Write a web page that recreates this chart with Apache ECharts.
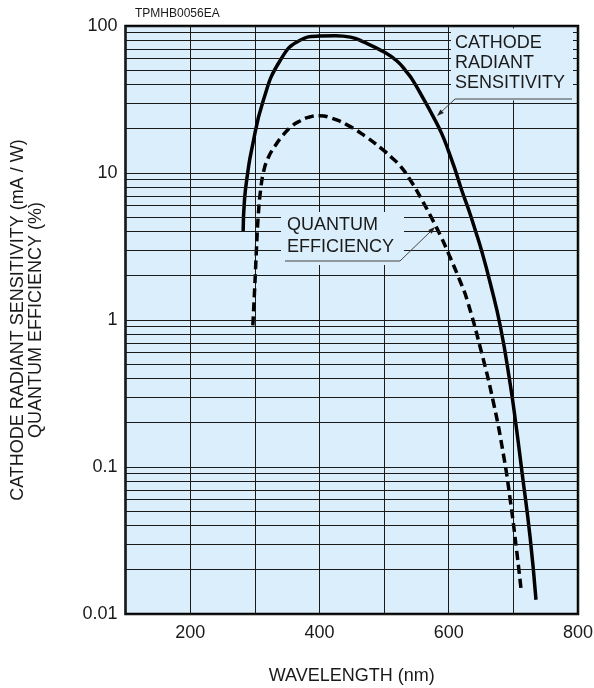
<!DOCTYPE html>
<html>
<head>
<meta charset="utf-8">
<script src="https://cdn.jsdelivr.net/npm/echarts@6/dist/echarts.min.js"></script>
<style>
  html, body { margin: 0; padding: 0; background: #fff; }
  #chart { width: 594px; height: 688px; }
</style>
</head>
<body>
<div id="chart"></div>
<script>
  // cathode radiant sensitivity (mA / W), solid curve
  const rsWavelength = [282, 284, 289, 295, 313, 339, 370, 400, 425, 448, 468, 500, 520, 535, 544, 561, 576, 589, 600, 610, 620, 631, 641, 651, 664, 680, 695, 703, 713, 726, 735]
  const rsValue = [4.0, 6.5, 10, 14.3, 31, 58, 80, 85.5, 86, 84, 78, 66.5, 57.8, 48.6, 43, 31.9, 24.2, 18.6, 14, 10.5, 7.66, 5.6, 4.1, 2.95, 1.8, 0.9, 0.37, 0.21, 0.095, 0.033, 0.0125]

  // quantum efficiency (%), dashed curve
  const qeWavelength = [297, 300, 302.5, 305.4, 309, 313.6, 320.6, 331.4, 343.8, 357.7, 370, 382.5, 400, 420, 445, 470, 499, 512.5, 525, 540, 556, 574, 589, 602, 618, 628, 649, 669, 685, 695, 705, 712]
  const qeValue = [0.92, 1.7, 2.99, 5.17, 7.66, 10.2, 12.65, 15.3, 18.1, 20.9, 22.6, 23.9, 24.5, 23.5, 21.0, 17.9, 14.3, 12.65, 11.17, 9.04, 6.87, 4.9, 3.61, 2.68, 1.82, 1.39, 0.645, 0.277, 0.119, 0.0606, 0.0272, 0.0146]

  const xLabels = ['200', '400', '600', '800']
  const yLabels = ['0.01', '0.1', '1', '10', '100']
  const decades = [0.01, 0.1, 1, 10]
  const minorSteps = [2, 3, 4, 5, 6, 7, 8, 9]

  const bg = '#dbeefb'
  const ink = '#1a1a1a'
  const font = 'Liberation Sans'

  const minorLines = []
  decades.forEach(function (d) {
    minorSteps.forEach(function (m) {
      minorLines.push({ yAxis: +(d * m).toPrecision(3) })
    })
  })

  const pair = (xs, ys) => xs.map((x, i) => [x, ys[i]])

  const myChart = echarts.init(document.getElementById('chart'))
  const option = {
    animation: false,
    textStyle: { fontFamily: font },
    grid: {
      left: 125.5, right: 16, top: 26, bottom: 74,
      outerBoundsMode: 'none',
      show: true,
      backgroundColor: bg,
      borderColor: '#000',
      borderWidth: 2.5
    },
    xAxis: {
      type: 'value',
      min: 100,
      max: 800,
      interval: 100,
      axisLine: { show: false },
      axisTick: { show: false },
      axisLabel: {
        margin: 10,
        fontSize: 18,
        color: ink,
        formatter: function (v) {
          return xLabels.indexOf(String(v)) >= 0 ? String(v) : ''
        }
      },
      splitLine: { show: true, lineStyle: { color: ink, width: 1 } },
      name: 'WAVELENGTH (nm)',
      nameLocation: 'middle',
      nameGap: 53,
      nameTextStyle: { fontSize: 18, color: ink }
    },
    yAxis: {
      type: 'log',
      logBase: 10,
      min: 0.01,
      max: 100,
      axisLine: { show: false },
      axisTick: { show: false },
      axisLabel: {
        margin: 8,
        fontSize: 18,
        color: ink,
        formatter: function (v) {
          const k = Math.round(Math.log10(v)) + 2
          return yLabels[k] || ''
        }
      },
      splitLine: { show: true, lineStyle: { color: ink, width: 1 } },
      name: 'CATHODE RADIANT SENSITIVITY (mA / W)\nQUANTUM EFFICIENCY (%)',
      nameLocation: 'middle',
      nameGap: 80,
      nameTextStyle: { fontSize: 18, color: ink, lineHeight: 18 }
    },
    series: [
      {
        name: 'CATHODE RADIANT SENSITIVITY',
        type: 'line',
        data: pair(rsWavelength, rsValue),
        smooth: 0.5,
        symbol: 'none',
        lineStyle: { color: '#000', width: 3.5 },
        z: 3,
        markLine: {
          silent: true,
          symbol: ['none', 'none'],
          label: { show: false },
          lineStyle: { color: ink, width: 1, type: 'solid' },
          data: minorLines
        }
      },
      {
        name: 'QUANTUM EFFICIENCY',
        type: 'line',
        data: pair(qeWavelength, qeValue),
        smooth: 0.5,
        symbol: 'none',
        lineStyle: { color: '#000', width: 3.5, type: [9, 5] },
        z: 3
      }
    ],
    graphic: [
      {
        type: 'text', left: 135, top: 8, z: 20,
        style: { text: 'TPMHB0056EA', fill: ink, font: '12px ' + font }
      },
      // cathode label box
      {
        type: 'rect', z: 20,
        shape: { x: 451, y: 28.5, width: 122, height: 72 },
        style: { fill: bg }
      },
      {
        type: 'text', z: 21, x: 455, y: 33,
        style: { text: 'CATHODE\nRADIANT\nSENSITIVITY', font: '18px ' + font, lineHeight: 20, fill: ink }
      },
      {
        type: 'polyline', z: 21,
        shape: { points: [[572, 99], [455, 99], [440, 113]] },
        style: { stroke: '#444', lineWidth: 1, fill: null }
      },
      {
        type: 'polygon', z: 21,
        shape: { points: [[437, 116], [443.8, 113], [440.4, 109.4]] },
        style: { fill: '#222' }
      },
      // quantum label box
      {
        type: 'rect', z: 20,
        shape: { x: 281, y: 212, width: 123, height: 53 },
        style: { fill: bg }
      },
      {
        type: 'text', z: 21, x: 287, y: 214.5,
        style: { text: 'QUANTUM\nEFFICIENCY', font: '18px ' + font, lineHeight: 21.5, fill: ink }
      },
      {
        type: 'polyline', z: 21,
        shape: { points: [[285, 261], [400, 261], [431, 231]] },
        style: { stroke: '#444', lineWidth: 1, fill: null }
      },
      {
        type: 'polygon', z: 21,
        shape: { points: [[435, 227], [431.7, 233.7], [428.3, 230.1]] },
        style: { fill: '#222' }
      }
    ]
  }
  myChart.setOption(option)
</script>
</body>
</html>
